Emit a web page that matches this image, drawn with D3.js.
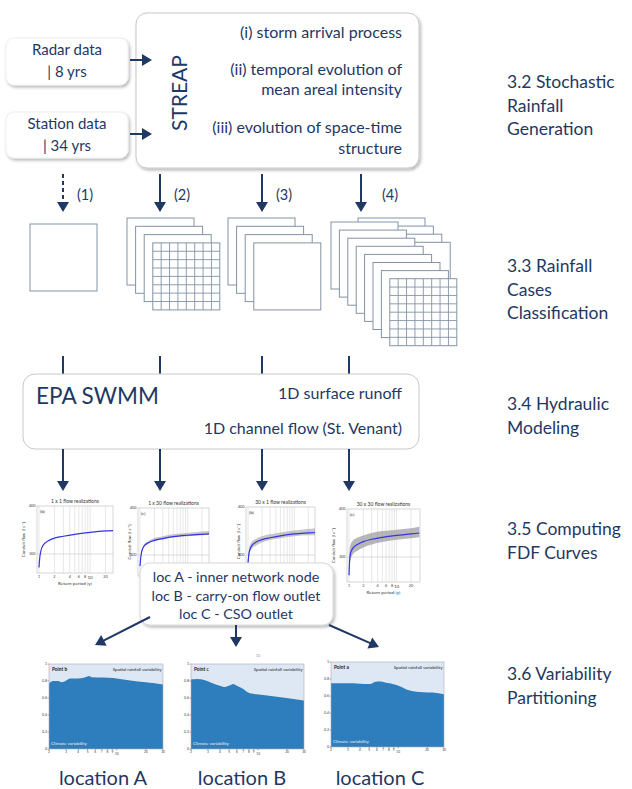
<!DOCTYPE html>
<html><head><meta charset="utf-8">
<script src="https://cdn.jsdelivr.net/npm/d3@7/dist/d3.min.js"></script>
<style>
body{margin:0;background:#fff}
svg{display:block}
text{font-family:Lato,"Open Sans",sans-serif}
</style>
</head><body>
<svg id="c" width="632" height="789"></svg>
<script>
// ---------------- data ----------------
const stageLabels = [
  ["3.2 Stochastic","Rainfall","Generation"],
  ["3.3  Rainfall","Cases","Classification"],
  ["3.4 Hydraulic","Modeling"],
  ["3.5 Computing","FDF Curves"],
  ["3.6 Variability","Partitioning"]
];
const inputLabels = [["Radar data","| 8 yrs"],["Station data","| 34 yrs"]];
const streapTitle = "STREAP";
const streapItems = [["(i) storm arrival process"],["(ii) temporal evolution of","mean areal intensity"],["(iii) evolution of space-time","structure"]];
const caseLabels = ["(1)","(2)","(3)","(4)"];
const swmmTitle = "EPA SWMM";
const swmmItems = ["1D surface runoff","1D channel flow (St. Venant)"];
const locItems = ["loc A - inner network node","loc B - carry-on flow outlet","loc C - CSO outlet"];
const locationNames = ["location A","location B","location C"];

// FDF curves (return period [y] vs conduit flow [l/s])
const flowTitles = ["1 x 1 flow realizations","1 x 30 flow realizations","30 x 1 flow realizations","30 x 30 flow realizations"];
const flowPanels = ["(b)","(c)","(b)","(c)"];
const fdfReturnPeriods = [1,1.03,1.08,1.2,1.5,2,3,5,10,20,30];
const median1x1  = [272,290,305,318,327,333,337,341,345,348,349];
const median1x30 = [276,292,306,318,326,331,335,339,342,344,345];
const lower1x30  = [274,290,304,316,324,329,333,337,340,342,343];
const upper1x30  = [280,296,310,322,330,336,340,344,347,350,351];
const median30x1 = [282,297,309,319,327,332,336,340,344,346,347];
const lower30x1  = [278,290,302,312,320,326,331,335,339,341,341];
const upper30x1  = [292,306,318,327,334,339,343,347,351,354,356];
const median30x30= [262,292,308,318,326,332,337,341,345,348,350];
const lower30x30 = [255,280,295,305,313,320,326,331,336,339,341];
const upper30x30 = [300,315,326,334,340,345,350,354,357,360,363];
const fdfYTicks = [300,400];
const fdfXTickLabels = [1,2,4,6,8,10,20];
const fdfGridPeriods = [1,2,3,4,5,6,7,8,9,10,20];

// variability partitioning: share of climate variability vs return period
const partTitles = ["Point b","Point c","Point a"];
const climateShareA = [[2,0.77],[2.2,0.80],[2.5,0.80],[2.7,0.785],[2.85,0.79],[3.3,0.83],[4,0.83],[4.9,0.85],[5.2,0.86],[5.5,0.845],[7.3,0.84],[9.2,0.835],[10.8,0.825],[13.8,0.805],[20,0.785],[30,0.76]];
const climateShareB = [[2,0.82],[2.3,0.825],[2.8,0.81],[3.4,0.77],[4,0.745],[4.5,0.73],[5.1,0.75],[5.5,0.765],[6,0.745],[7,0.705],[8.2,0.655],[11.3,0.635],[19.7,0.6],[30,0.57]];
const climateShareC = [[2,0.75],[2.7,0.75],[3.4,0.75],[4,0.745],[5.1,0.74],[5.7,0.765],[6.5,0.77],[7.3,0.76],[9.6,0.73],[13.2,0.665],[18.2,0.645],[23,0.64],[30,0.62]];
const partYTicks = [0,0.2,0.4,0.6,0.8,1];
const partXTicks = [2,3,4,5,6,7,8,9,10,20,30];

// ---------------- drawing ----------------
const NAVY = "#1f3864";
const svg = d3.select("#c");
const defs = svg.append("defs");
const f = defs.append("filter").attr("id","sh").attr("x","-20%").attr("y","-20%").attr("width","150%").attr("height","160%");
f.append("feDropShadow").attr("dx",1.5).attr("dy",2).attr("stdDeviation",1.6).attr("flood-color","#000").attr("flood-opacity",0.28);

function arrow(x1,y1,x2,y2,dashed){
  const L=Math.hypot(x2-x1,y2-y1), ux=(x2-x1)/L, uy=(y2-y1)/L, hl=10, hw=6;
  const bx=x2-ux*hl, by=y2-uy*hl;
  svg.append("line").attr("x1",x1).attr("y1",y1).attr("x2",bx+ux*1).attr("y2",by+uy*1)
    .attr("stroke",NAVY).attr("stroke-width",2).attr("stroke-dasharray",dashed?"4,3":null);
  svg.append("path").attr("d",`M${x2},${y2}L${bx-uy*hw},${by+ux*hw}L${bx+uy*hw},${by-ux*hw}Z`).attr("fill",NAVY);
}
function txt(x,y,s,size,anchor){
  return svg.append("text").attr("x",x).attr("y",y).attr("font-size",size).attr("fill",NAVY)
    .attr("text-anchor",anchor||"start").text(s);
}

// right stage labels
const stageY=[88,272,410,535,680];
stageLabels.forEach((lines,i)=>lines.forEach((s,j)=>txt(507,stageY[i]+j*23.5,s,17.5)));

// input boxes
const inputBoxes=[{x:6,y:38,w:122,h:47},{x:6,y:112,w:122,h:46}];
inputBoxes.forEach((b,i)=>{
  svg.append("rect").attr("x",b.x).attr("y",b.y).attr("width",b.w).attr("height",b.h).attr("rx",8)
    .attr("fill","#fff").attr("stroke","#eee").attr("filter","url(#sh)");
  txt(67,b.y+17,inputLabels[i][0],15,"middle");
  txt(67,b.y+39,inputLabels[i][1],15,"middle");
});
// STREAP box
svg.append("rect").attr("x",136).attr("y",13).attr("width",283).attr("height",155).attr("rx",11)
  .attr("fill","#fff").attr("stroke","#c8c8c8").attr("filter","url(#sh)");
arrow(130,60,152,60);
arrow(130,134,152,134);
svg.append("text").attr("transform","translate(187,93) rotate(-90)").attr("text-anchor","middle")
  .attr("font-size",21).attr("fill",NAVY).text(streapTitle);
const streapY=[[38],[75,95],[133,154]];
streapItems.forEach((lines,i)=>lines.forEach((s,j)=>txt(402,streapY[i][j],s,16,"end")));

// case arrows
const caseX=[63,160,262,361];
caseX.forEach((x,i)=>{
  arrow(x,174,x,212,i===0);
  txt(x+14+(i===3?7:0),200,caseLabels[i],14.5,"start");
});

// rainfall case squares
const SQ=67;
function square(x,y,grid){
  svg.append("rect").attr("x",x).attr("y",y).attr("width",SQ).attr("height",SQ)
    .attr("fill","#fff").attr("stroke","#8393a5").attr("stroke-width",1);
  if(grid){
    const g=d3.scaleLinear().domain([0,8]).range([0,SQ]);
    d3.range(1,8).forEach(k=>{
      svg.append("line").attr("x1",x+g(k)).attr("x2",x+g(k)).attr("y1",y).attr("y2",y+SQ).attr("stroke","#8393a5").attr("stroke-width",0.9);
      svg.append("line").attr("y1",y+g(k)).attr("y2",y+g(k)).attr("x1",x).attr("x2",x+SQ).attr("stroke","#8393a5").attr("stroke-width",0.9);
    });
  }
}
square(30,224,false);
d3.range(4).forEach(i=>square(127+i*8.6,218+i*8.3,i===3));
d3.range(4).forEach(i=>square(228+i*8.6,218+i*8.3,false));
d3.range(4).forEach(i=>square(358+i*8.4,218+i*8.1,false));
d3.range(8).forEach(i=>square(331+i*8.4,222+i*8.1,i===7));

// lines to SWMM
const swmmX=[63,160,262,349];
swmmX.forEach(x=>svg.append("line").attr("x1",x).attr("x2",x).attr("y1",356).attr("y2",374).attr("stroke",NAVY).attr("stroke-width",2));
svg.append("rect").attr("x",23).attr("y",374).attr("width",396).attr("height",75).attr("rx",12)
  .attr("fill","#fff").attr("stroke","#c8c8c8");
txt(36,404,swmmTitle,22.5);
txt(402,399,swmmItems[0],16,"end");
txt(402,434,swmmItems[1],16,"end");
swmmX.forEach(x=>arrow(x,449,x,491));

// FDF charts
const flowFrames=[
  {x0:37,x1:113,top:506,y300:554,bottom:573,xMax:28,yl:25},
  {x0:138,x1:209,top:508,y300:555,bottom:576,xMax:28,yl:131},
  {x0:246,x1:315,top:507,y300:555,bottom:576,xMax:28,yl:240},
  {x0:347,x1:420,top:509,y300:557,bottom:582,xMax:31,yl:335}
];
const flowSeries=[[median1x1,null,null],[median1x30,lower1x30,upper1x30],[median30x1,lower30x1,upper30x1],[median30x30,lower30x30,upper30x30]];
flowFrames.forEach((fr,i)=>{
  const g=svg.append("g");
  const x=d3.scaleLog().domain([1,fr.xMax]).range([fr.x0+2,fr.x1]);
  const y=d3.scaleLinear().domain([300,400]).range([fr.y300,fr.top]);
  g.append("rect").attr("x",fr.x0).attr("y",fr.top).attr("width",fr.x1-fr.x0).attr("height",fr.bottom-fr.top).attr("fill","#fff");
  fdfGridPeriods.forEach(p=>g.append("line").attr("x1",x(p)).attr("x2",x(p)).attr("y1",fr.top).attr("y2",fr.bottom).attr("stroke","#d6d6d6").attr("stroke-width",0.6));
  g.append("line").attr("x1",fr.x0).attr("x2",fr.x1).attr("y1",y(300)).attr("y2",y(300)).attr("stroke","#c8c8c8").attr("stroke-width",0.6);
  g.append("rect").attr("x",fr.x0).attr("y",fr.top).attr("width",fr.x1-fr.x0).attr("height",fr.bottom-fr.top).attr("fill","none").attr("stroke","#bbb").attr("stroke-width",0.6);
  const [med,lo,hi]=flowSeries[i];
  const clip="clipf"+i;
  defs.append("clipPath").attr("id",clip).append("rect").attr("x",fr.x0).attr("y",fr.top).attr("width",fr.x1-fr.x0).attr("height",fr.bottom-fr.top);
  const cg=g.append("g").attr("clip-path",`url(#${clip})`);
  if(lo){
    cg.append("path").datum(fdfReturnPeriods.map((t,k)=>[t,lo[k],hi[k]]))
      .attr("d",d3.area().x(d=>x(d[0])).y0(d=>y(d[1])).y1(d=>y(d[2])).curve(d3.curveMonotoneX))
      .attr("fill","#999").attr("opacity",i===3?0.7:0.55);
  }
  cg.append("path").datum(fdfReturnPeriods.map((t,k)=>[t,med[k]]))
    .attr("d",d3.line().x(d=>x(d[0])).y(d=>y(d[1])).curve(d3.curveMonotoneX))
    .attr("fill","none").attr("stroke","#3535e0").attr("stroke-width",1.2);
  g.append("text").attr("x",(fr.x0+fr.x1)/2).attr("y",fr.top-3).attr("text-anchor","middle").attr("font-size",5).attr("fill","#333").text(flowTitles[i]);
  g.append("text").attr("x",fr.x0+3).attr("y",fr.top+7).attr("font-size",4.5).attr("fill","#333").text(flowPanels[i]);
  fdfYTicks.forEach(v=>g.append("text").attr("x",fr.x0-1.5).attr("y",y(v)+1.3).attr("text-anchor","end").attr("font-size",3.8).attr("fill","#444").text(v));
  g.append("text").attr("transform",`translate(${fr.yl},${(fr.top+fr.bottom)/2}) rotate(-90)`).attr("text-anchor","middle").attr("font-size",4.3).attr("fill","#333").text("Conduit flow [l s\u207B\u00B9]");
  if(i===0||i===3){
    fdfXTickLabels.forEach(v=>g.append("text").attr("x",x(v)).attr("y",fr.bottom+(v===10?6:5)).attr("text-anchor","middle").attr("font-size",v===10?4.6:3.8).attr("fill","#444").text(v));
    g.append("text").attr("x",(fr.x0+fr.x1)/2).attr("y",fr.bottom+12).attr("text-anchor","middle").attr("font-size",4.6).attr("fill","#333").text("Return period [y]");
  }
});

// loc box
svg.append("rect").attr("x",140).attr("y",563).attr("width",193).attr("height",62).attr("rx",10)
  .attr("fill","#fff").attr("stroke","#d8d8d8").attr("filter","url(#sh)");
locItems.forEach((s,i)=>txt(236,582+i*18.5,s,14.3,"middle"));
arrow(150,617,95,645);
arrow(236,625,236,647);
arrow(329,625,379,647);

// faint axis remnants above chart B
svg.append("text").attr("x",258).attr("y",657).attr("font-size",4).attr("fill","#999").attr("text-anchor","middle").text("10");

// variability partitioning charts
const partFrames=[{x0:49,x1:163,top:664,bottom:749},{x0:191,x1:304,top:664,bottom:749},{x0:331,x1:444,top:662,bottom:747}];
const partData=[climateShareA,climateShareB,climateShareC];
partFrames.forEach((fr,i)=>{
  const g=svg.append("g");
  const x=d3.scaleLog().domain([2,30]).range([fr.x0,fr.x1]);
  const y=d3.scaleLinear().domain([0,1]).range([fr.bottom,fr.top]);
  g.append("rect").attr("x",fr.x0).attr("y",fr.top).attr("width",fr.x1-fr.x0).attr("height",fr.bottom-fr.top).attr("fill","#dde8f4");
  g.append("path").datum(partData[i])
    .attr("d",d3.area().x(d=>x(d[0])).y0(y(0)).y1(d=>y(d[1])).curve(d3.curveMonotoneX))
    .attr("fill","#2e7dbd");
  g.append("rect").attr("x",fr.x0).attr("y",fr.top).attr("width",fr.x1-fr.x0).attr("height",fr.bottom-fr.top).attr("fill","none").attr("stroke","#aab").attr("stroke-width",0.6);
  g.append("text").attr("x",fr.x0+3).attr("y",fr.top+6.5).attr("font-size",4.8).attr("font-weight","bold").attr("fill","#222").text(partTitles[i]);
  g.append("text").attr("x",fr.x1-1.5).attr("y",fr.top+6.5).attr("text-anchor","end").attr("font-size",4.6).attr("fill","#222").text("Spatial rainfall variability");
  g.append("text").attr("x",fr.x0+2).attr("y",fr.bottom-4).attr("font-size",4.6).attr("fill","#e8f0f8").text("Climate variability");
  partYTicks.forEach(v=>{
    g.append("line").attr("x1",fr.x0-1.5).attr("x2",fr.x0).attr("y1",y(v)).attr("y2",y(v)).attr("stroke","#666").attr("stroke-width",0.5);
    g.append("text").attr("x",fr.x0-2).attr("y",y(v)+1.3).attr("text-anchor","end").attr("font-size",3.6).attr("fill","#444").text(v);
  });
  partXTicks.forEach(v=>{
    g.append("line").attr("x1",x(v)).attr("x2",x(v)).attr("y1",fr.bottom).attr("y2",fr.bottom+1.5).attr("stroke","#666").attr("stroke-width",0.5);
    g.append("text").attr("x",x(v)).attr("y",fr.bottom+(v===10?5.5:4.2)).attr("text-anchor","middle").attr("font-size",3.2).attr("fill","#444").text(v);
  });
});
const locX=[103,242,380];
locationNames.forEach((s,i)=>txt(locX[i],785,s,20,"middle"));
</script>
</body></html>
